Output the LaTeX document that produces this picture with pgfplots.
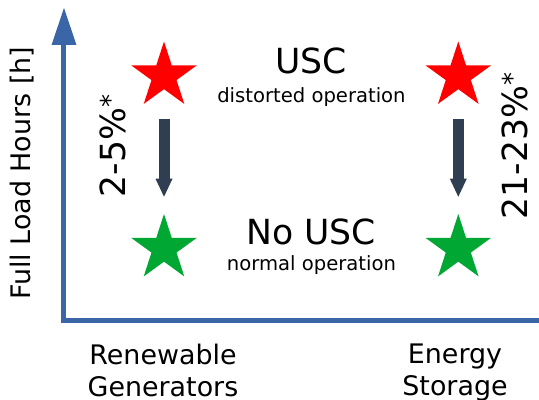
\documentclass[border=0pt]{standalone}
\usepackage{pgfplots}
\pgfplotsset{compat=1.18}
\usepackage{fontspec}
\setmainfont{DejaVu Sans}
\usetikzlibrary{arrows.meta}
\definecolor{axblue}{HTML}{3A66A7}
\definecolor{starred}{HTML}{FF0000}
\definecolor{stargreen}{HTML}{00A833}
\definecolor{arrdark}{HTML}{2F3F51}
\pgfdeclareplotmark{fstar}{%
  \pgfpathmoveto{\pgfpointpolar{90}{\pgfplotmarksize}}%
  \pgfpathlineto{\pgfpointpolar{126}{0.382\pgfplotmarksize}}%
  \pgfpathlineto{\pgfpointpolar{162}{\pgfplotmarksize}}%
  \pgfpathlineto{\pgfpointpolar{198}{0.382\pgfplotmarksize}}%
  \pgfpathlineto{\pgfpointpolar{234}{\pgfplotmarksize}}%
  \pgfpathlineto{\pgfpointpolar{270}{0.382\pgfplotmarksize}}%
  \pgfpathlineto{\pgfpointpolar{306}{\pgfplotmarksize}}%
  \pgfpathlineto{\pgfpointpolar{342}{0.382\pgfplotmarksize}}%
  \pgfpathlineto{\pgfpointpolar{18}{\pgfplotmarksize}}%
  \pgfpathlineto{\pgfpointpolar{54}{0.382\pgfplotmarksize}}%
  \pgfpathclose
  \pgfusepathqfill
}
\newcommand{\supast}{{\fontsize{26bp}{26bp}\selectfont\raisebox{6bp}{*}}}
\begin{document}
\begin{tikzpicture}
\useasboundingbox (-64bp,-80bp) rectangle (475bp,320bp);
\begin{axis}[
  at={(0,0)}, anchor=south west,
  scale only axis, width=475bp, height=312bp,
  xmin=-0.3398, xmax=1.2742, ymin=-0.4145, ymax=1.3942,
  axis lines=left,
  axis line style={line width=5bp, color=axblue},
  x axis line style={-, line cap=rect},
  y axis line style={-{Triangle[width=25bp,length=37bp,line width=0pt]}},
  xtick={-0.0034,0.9888}, xticklabels={{Renewable\\Generators},{Energy\\Storage}},
  xtick style={draw=none}, ytick=\empty,
  x tick label style={align=center, font=\fontsize{26.9bp}{32bp}\selectfont, inner sep=0pt, anchor=north, yshift=-21.5bp},
  ylabel={Full Load Hours [h]},
  every axis y label/.style={at={(axis description cs:-0.0695,0.4696)}, rotate=90, anchor=base, font=\fontsize{26.9bp}{32bp}\selectfont},
  clip=false,
]
\addplot[arrdark, line width=11bp, -{Triangle[width=17bp,length=18bp,line width=0pt]}] coordinates {(0,0.749) (0,0.300)};
\addplot[arrdark, line width=11bp, -{Triangle[width=17bp,length=18bp,line width=0pt]}] coordinates {(1,0.749) (1,0.300)};
\addplot[only marks, mark=fstar, mark size=34.5bp, color=starred] coordinates {(0,1) (1,1)};
\addplot[only marks, mark=fstar, mark size=34.5bp, color=stargreen] coordinates {(0,0) (1,0)};
\node[anchor=base, font=\fontsize{34.6bp}{40bp}\selectfont] at (axis cs:0.5,1.0116) {USC};
\node[anchor=base, font=\fontsize{19.6bp}{24bp}\selectfont] at (axis cs:0.501,0.845) {distorted operation};
\node[anchor=base, font=\fontsize{34.6bp}{40bp}\selectfont] at (axis cs:0.5,0.0203) {No USC};
\node[anchor=base, font=\fontsize{19.6bp}{24bp}\selectfont] at (axis cs:0.501,-0.1287) {normal operation};
\node[rotate=90, anchor=base, font=\fontsize{34.6bp}{40bp}\selectfont] at (axis cs:-0.1325,0.594) {2-5\%\supast};
\node[rotate=90, anchor=base, font=\fontsize{34.6bp}{40bp}\selectfont] at (axis cs:1.2368,0.594) {21-23\%\supast};
\end{axis}
\end{tikzpicture}
\end{document}
